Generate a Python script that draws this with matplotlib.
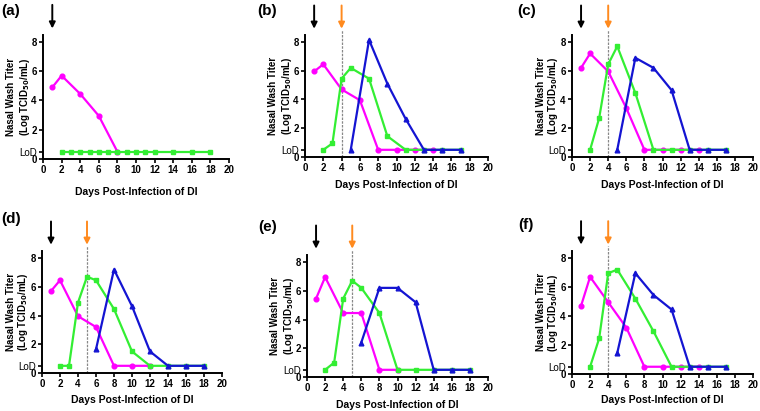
import matplotlib
matplotlib.use("Agg")
import matplotlib.pyplot as plt
import matplotlib.transforms as mtransforms

plt.rcParams['font.family'] = ['Liberation Sans', 'DejaVu Sans']

LOD = 0.5

# panel a
a_mag_x = [1, 2, 4, 6, 8]
a_mag_y = [4.9, 5.7, 4.45, 2.95, 0.5]
a_grn_x = [2, 3, 4, 5, 6, 7, 8, 9, 10, 11, 12, 14, 16, 18]
a_grn_y = [0.5] * 14

# panel b
b_mag_x = [1, 2, 4, 6, 8, 10, 12, 14]
b_mag_y = [5.95, 6.45, 4.7, 3.95, 0.5, 0.5, 0.5, 0.5]
b_grn_x = [2, 3, 4, 5, 7, 9, 11, 13, 15, 17]
b_grn_y = [0.5, 0.95, 5.45, 6.2, 5.45, 1.45, 0.5, 0.5, 0.5, 0.5]
b_blu_x = [5, 7, 9, 11, 13, 15, 17]
b_blu_y = [0.5, 8.15, 5.1, 2.65, 0.5, 0.5, 0.5]

# panel c
c_mag_x = [1, 2, 4, 6, 8, 10, 12, 14]
c_mag_y = [6.2, 7.2, 5.95, 3.4, 0.5, 0.5, 0.5, 0.5]
c_grn_x = [2, 3, 4, 5, 7, 9, 11, 13, 15, 17]
c_grn_y = [0.5, 2.7, 6.45, 7.7, 4.45, 0.5, 0.5, 0.5, 0.5, 0.5]
c_blu_x = [5, 7, 9, 11, 13, 15, 17]
c_blu_y = [0.5, 6.9, 6.2, 4.65, 0.5, 0.5, 0.5]

# panel d
d_mag_x = [1, 2, 4, 6, 8, 10, 12]
d_mag_y = [5.7, 6.45, 3.95, 3.2, 0.5, 0.5, 0.5]
d_grn_x = [2, 3, 4, 5, 6, 8, 10, 12, 14, 16, 18]
d_grn_y = [0.5, 0.5, 4.9, 6.7, 6.45, 4.45, 1.5, 0.5, 0.5, 0.5, 0.5]
d_blu_x = [6, 8, 10, 12, 14, 16, 18]
d_blu_y = [1.65, 7.2, 4.65, 1.5, 0.5, 0.5, 0.5]

# panel e
e_mag_x = [1, 2, 4, 6, 8, 10]
e_mag_y = [5.45, 6.95, 4.45, 4.45, 0.5, 0.5]
e_grn_x = [2, 3, 4, 5, 6, 8, 10, 12, 14, 16, 18]
e_grn_y = [0.5, 1.0, 5.45, 6.7, 6.2, 4.45, 0.5, 0.5, 0.5, 0.5, 0.5]
e_blu_x = [6, 8, 10, 12, 14, 16, 18]
e_blu_y = [2.4, 6.2, 6.2, 5.2, 0.5, 0.5, 0.5]

# panel f
f_mag_x = [1, 2, 4, 6, 8, 10, 12, 14]
f_mag_y = [4.7, 6.7, 4.95, 3.2, 0.5, 0.5, 0.5, 0.5]
f_grn_x = [2, 3, 4, 5, 7, 9, 11, 13, 15, 17]
f_grn_y = [0.5, 2.45, 6.95, 7.2, 5.2, 2.95, 0.5, 0.5, 0.5, 0.5]
f_blu_x = [5, 7, 9, 11, 13, 15, 17]
f_blu_y = [1.45, 6.95, 5.45, 4.45, 0.5, 0.5, 0.5]

panel_labels = ['(a)', '(b)', '(c)', '(d)', '(e)', '(f)']
second_dose = [None, 4, 4, 5, 5, 4]
first_dose = 1

MAG = '#FF00FF'
GRN = '#33EE33'
BLU = '#1414D2'
ORG = '#FF8A1E'

W, H = 760, 411
fig = plt.figure(figsize=(W / 100, H / 100), dpi=100)

# pixel placement: x at 0, x at 20, y at 0, y at 8
boxes = [(43, 229, 159, 42), (305, 488, 157, 42), (572, 753, 157, 42),
         (42, 222, 373, 258), (307, 488, 377, 262), (572, 753, 374, 258)]
label_pos = [(1, 4), (257, 4), (517, 4), (1, 212), (258, 220), (518, 218)]
xlabel_y = [192, 185, 185, 400, 405, 400]   # centre of x label, pixels
ylabel_off = 24                               # centre of y label left of spine

series = [
    [(a_mag_x, a_mag_y, MAG, 'o'), (a_grn_x, a_grn_y, GRN, 's')],
    [(b_mag_x, b_mag_y, MAG, 'o'), (b_grn_x, b_grn_y, GRN, 's'), (b_blu_x, b_blu_y, BLU, '^')],
    [(c_mag_x, c_mag_y, MAG, 'o'), (c_grn_x, c_grn_y, GRN, 's'), (c_blu_x, c_blu_y, BLU, '^')],
    [(d_mag_x, d_mag_y, MAG, 'o'), (d_grn_x, d_grn_y, GRN, 's'), (d_blu_x, d_blu_y, BLU, '^')],
    [(e_mag_x, e_mag_y, MAG, 'o'), (e_grn_x, e_grn_y, GRN, 's'), (e_blu_x, e_blu_y, BLU, '^')],
    [(f_mag_x, f_mag_y, MAG, 'o'), (f_grn_x, f_grn_y, GRN, 's'), (f_blu_x, f_blu_y, BLU, '^')],
]

ytop = 8.5
for i, (x0, x20, y0, y8) in enumerate(boxes):
    hgt = (y0 - y8) * ytop / 8
    wid = x20 - x0
    ax = fig.add_axes([x0 / W, (H - y0) / H, wid / W, hgt / H])
    for xs, ys, col, mk in series[i]:
        ax.plot(xs, ys, color=col, marker=mk, markersize=3.4, lw=1.6, clip_on=False)
    ax.set_xlim(0, 20)
    ax.set_ylim(0, ytop)
    ax.set_xticks(range(0, 21, 2))
    ax.set_yticks([0, LOD, 2, 4, 6, 8])
    ax.set_yticklabels(['0', 'LoD', '2', '4', '6', '8'])
    for t in ax.get_xticklabels() + ax.get_yticklabels():
        t.set_fontweight('bold')
        t.set_fontsize(7)
    lod = ax.get_yticklabels()[1]
    lod.set_fontweight('normal')
    lod.set_transform(lod.get_transform() + mtransforms.ScaledTranslation(0, 2.5 / 100, fig.dpi_scale_trans))
    ax.tick_params(length=3, width=1.2, pad=1.5)
    for s in ['top', 'right']:
        ax.spines[s].set_visible(False)
    for s in ['left', 'bottom']:
        ax.spines[s].set_linewidth(1.4)
    ax.set_ylabel('Nasal Wash Titer\n(Log TCID$_{\\mathbf{50}}$/mL)', fontsize=7,
                  fontweight='bold', linespacing=1.1, va='center')
    ax.yaxis.set_label_coords(-ylabel_off / wid, 0.5)
    ax.set_xlabel('Days Post-Infection of DI', fontsize=7.5, fontweight='bold', va='center')
    ax.xaxis.set_label_coords(0.5, (y0 - xlabel_y[i]) / hgt)

    # dose arrows
    ax.annotate('', xy=(first_dose, 1.05), xytext=(first_dose, 1.24),
                xycoords=('data', 'axes fraction'),
                arrowprops=dict(arrowstyle='-|>', color='black', lw=1.4,
                                mutation_scale=9, shrinkA=0, shrinkB=0),
                annotation_clip=False)
    if second_dose[i] is not None:
        sd = second_dose[i]
        ax.annotate('', xy=(sd, 1.05), xytext=(sd, 1.24),
                    xycoords=('data', 'axes fraction'),
                    arrowprops=dict(arrowstyle='-|>', color=ORG, lw=1.4,
                                    mutation_scale=9, shrinkA=0, shrinkB=0),
                    annotation_clip=False)
        ax.plot([sd, sd], [0, 1.04], transform=ax.get_xaxis_transform(),
                color='#888888', ls='--', lw=0.9, dashes=(2, 1), clip_on=False, zorder=0)

    lx, ly = label_pos[i]
    fig.text(lx / W, 1 - ly / H, panel_labels[i], fontsize=11, fontweight='bold',
             va='top', ha='left')

fig.savefig('out.png', dpi=100)
